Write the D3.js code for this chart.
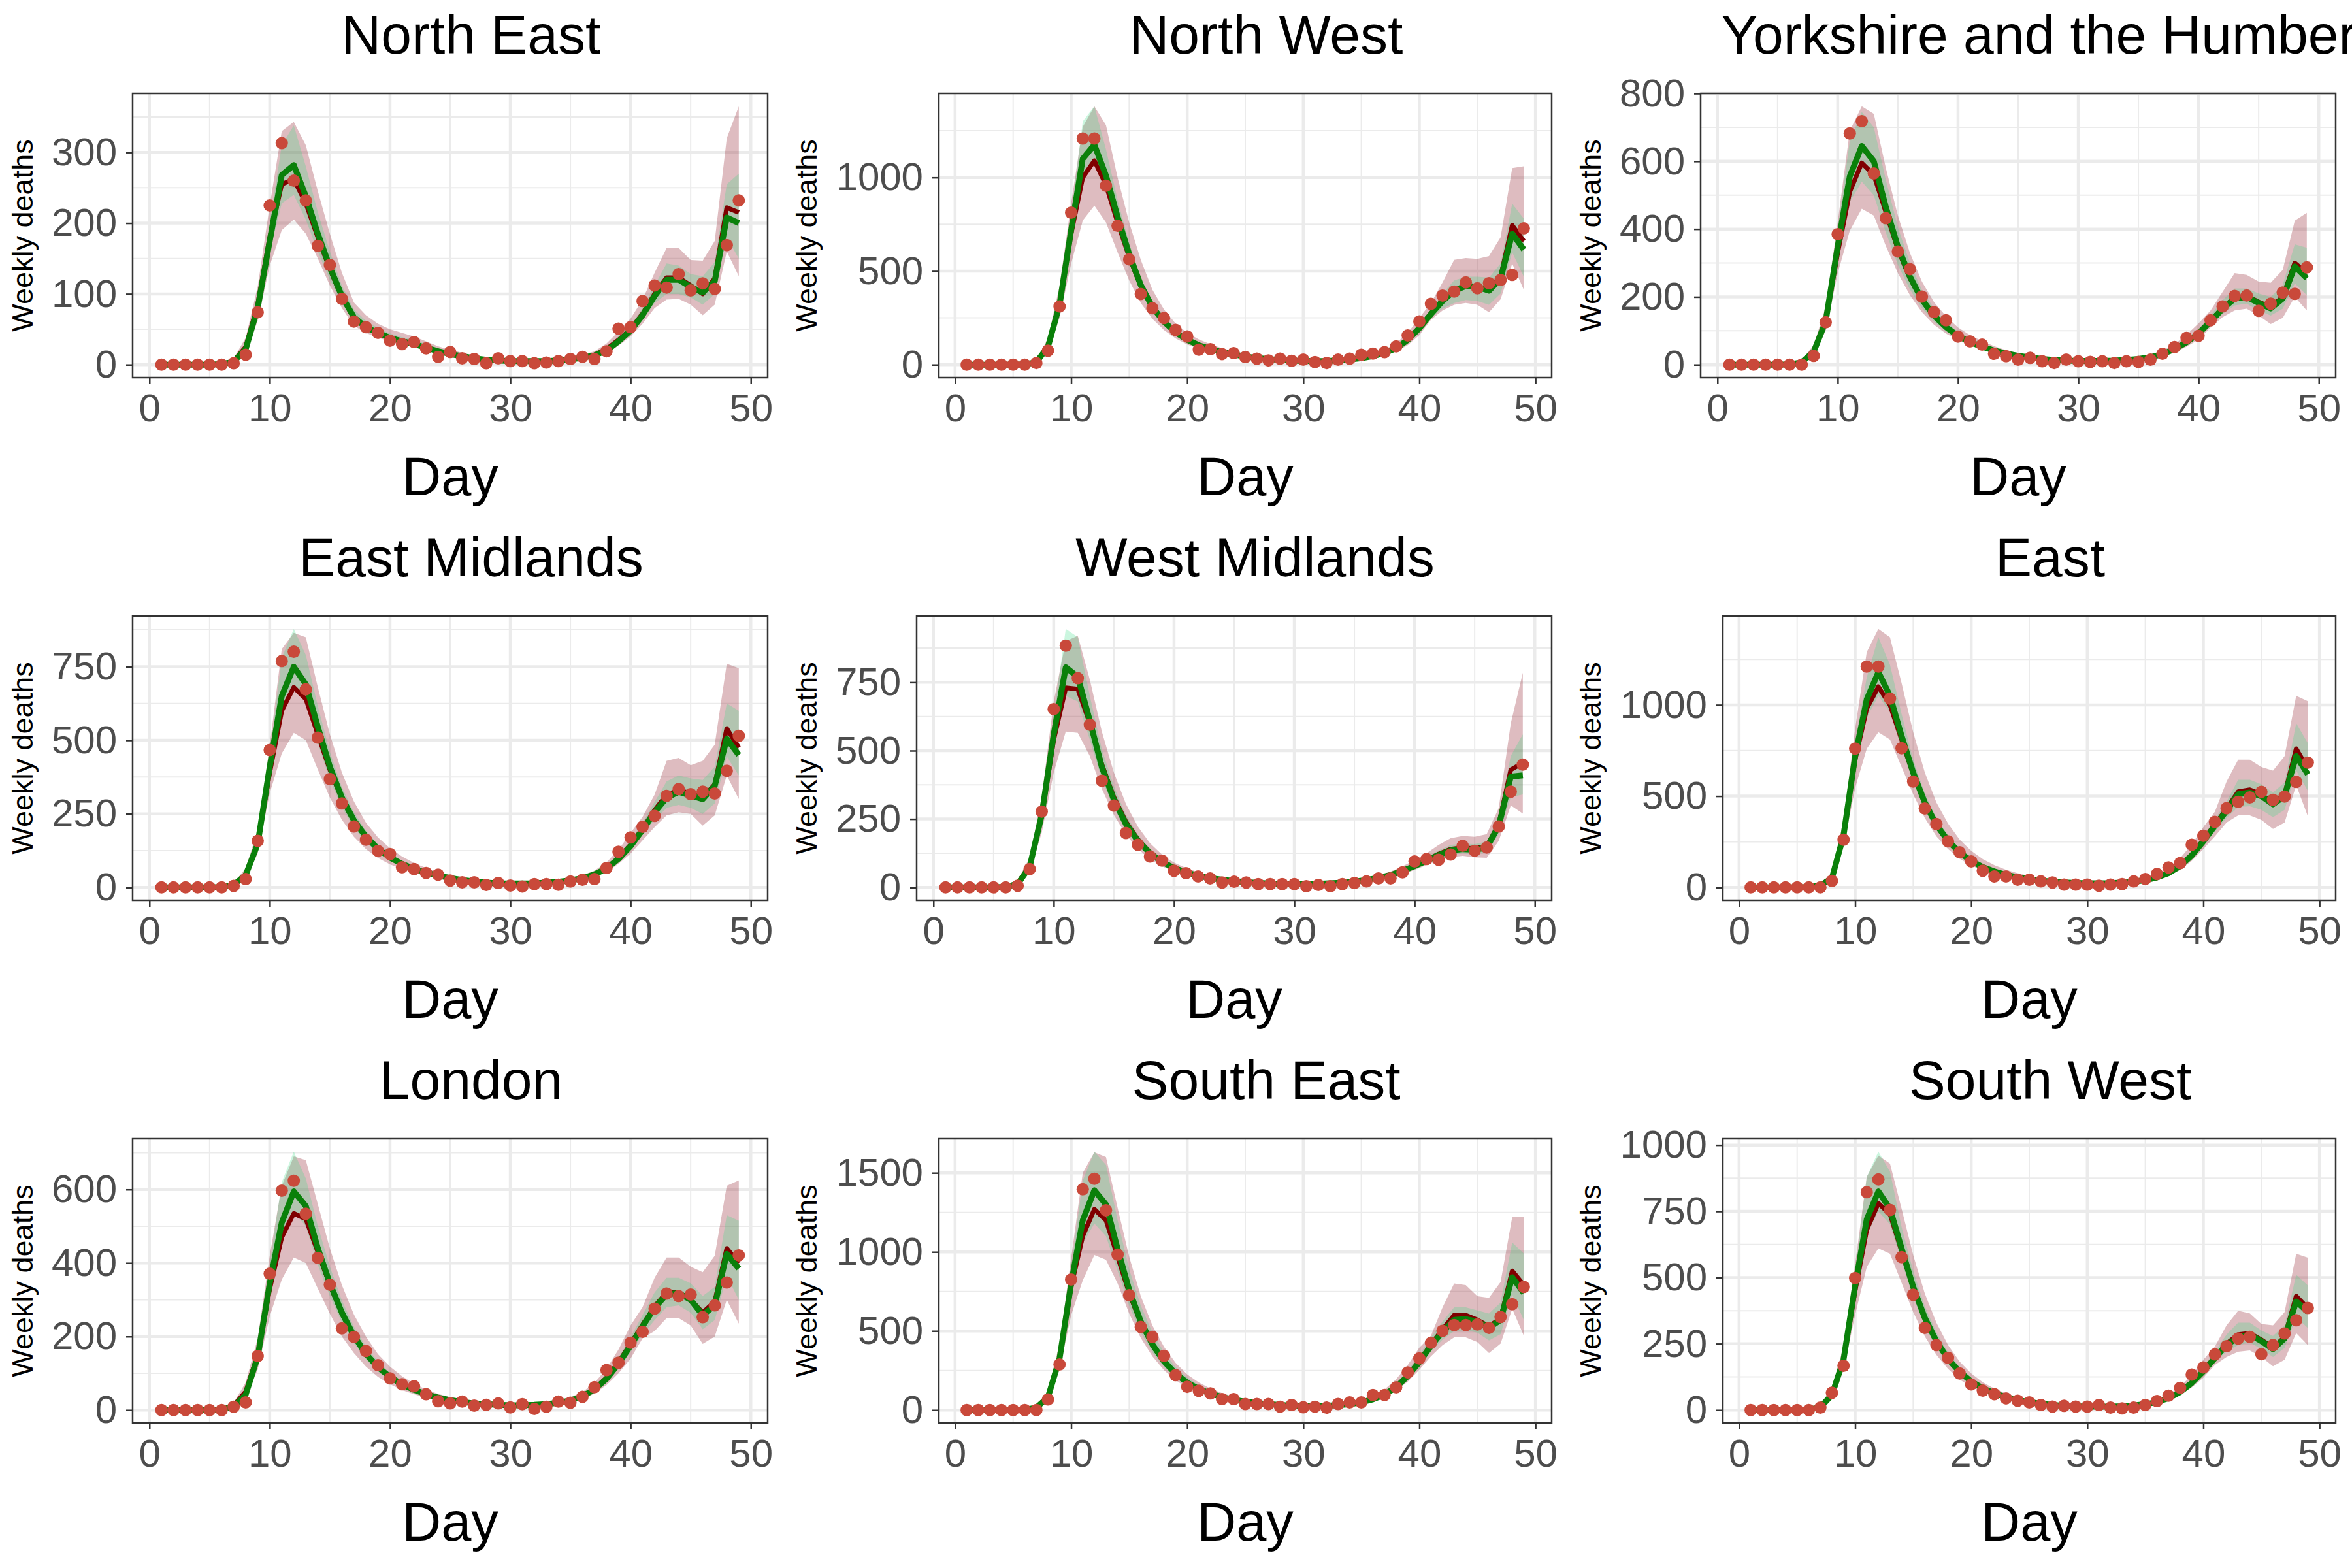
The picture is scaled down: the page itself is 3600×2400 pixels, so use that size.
<!DOCTYPE html>
<html>
<head>
<meta charset="utf-8">
<script src="https://cdn.jsdelivr.net/npm/d3@7"></script>
<style>
    body { margin: 0; background: #fff; }
    text { font-family: "Liberation Sans", Arial, sans-serif; }
</style>
</head>
<body>
<div id="chart"></div>
<script>
const regions = ['North East', 'North West', 'Yorkshire and the Humber', 'East Midlands', 'West Midlands', 'East', 'London', 'South East', 'South West'];
const days = d3.range(1, 50);
const xTicks = [0, 10, 20, 30, 40, 50];
const yTicks = [
    [0, 100, 200, 300],
    [0, 500, 1000],
    [0, 200, 400, 600, 800],
    [0, 250, 500, 750],
    [0, 250, 500, 750],
    [0, 500, 1000],
    [0, 200, 400, 600],
    [0, 500, 1000, 1500],
    [0, 250, 500, 750, 1000]
];

// observed weekly deaths, fit A (dark red) and fit B (green) with their bands
const neObs = [0,0,0,0,0,0,2,14,74,225,313,260,232,168,141,93,61,53,45,34,29,32,23,11,18,9,8,2,9,5,5,2,3,5,8,11,8,19,51,53,90,112,109,128,105,115,107,169,232];
const neFitA = [0,0,0,0,0,1,5,25,85,180,255,262,228,180,135,95,66,52,44,38,34,30,24,19,15,12,9,7,6,5,5,5,5,6,8,10,14,22,35,50,72,100,123,123,112,100,122,222,215];
const neFitB = [0,0,0,0,0,1,4,22,80,175,268,282,238,185,138,97,67,53,45,38,33,29,24,19,15,12,9,7,6,5,5,5,5,6,7,10,13,20,33,48,70,97,120,120,110,102,118,208,200];
const neLoA = [0,0,0,0,0,0,2,15,62,140,190,205,185,150,112,80,55,45,38,33,29,26,20,15,12,9,7,5,4,3,3,3,3,4,5,7,10,16,27,40,58,80,92,93,85,70,85,160,125];
const neHiA = [1,1,1,1,1,3,9,38,110,225,330,343,310,245,185,130,88,70,58,50,45,40,33,26,21,17,13,10,9,8,8,8,8,9,11,14,19,30,47,65,92,130,165,165,148,147,175,320,365];
const neLoB = [0,0,0,0,0,0,3,18,70,160,228,240,205,160,120,86,60,48,41,35,31,27,22,17,13,10,8,6,5,4,4,4,4,5,6,8,11,18,30,44,63,87,100,100,95,85,100,180,150];
const neHiB = [1,1,1,1,1,2,7,30,95,200,310,338,280,215,160,112,78,62,52,44,39,35,29,23,18,14,11,9,8,7,7,7,7,8,9,12,16,25,40,56,80,112,143,140,128,125,145,255,270];

const nwObs = [0,0,0,0,0,0,9,75,311,812,1208,1208,956,742,563,378,302,249,186,151,80,83,57,62,41,32,23,32,21,27,14,9,27,32,53,59,67,98,156,231,325,369,391,440,408,435,453,480,728];
const nwFitA = [0,0,0,0,0,2,15,100,330,700,1000,1090,960,760,575,420,305,228,172,133,105,85,68,55,45,37,31,26,22,20,19,20,23,28,36,47,63,90,135,200,275,345,400,425,420,400,470,745,660];
const nwFitB = [0,0,0,0,0,2,13,95,320,720,1100,1175,1010,790,590,425,308,230,173,133,104,84,67,54,44,36,30,25,22,20,19,20,23,28,35,46,62,88,132,195,270,340,395,420,415,395,460,700,615];
const nwLoA = [0,0,0,0,0,1,8,70,250,540,770,850,760,600,450,330,245,185,140,108,85,68,54,44,36,29,24,20,17,15,14,15,17,21,27,36,49,70,105,158,240,290,320,330,320,280,350,540,400];
const nwHiA = [2,2,2,2,2,5,25,140,420,860,1270,1380,1280,1000,760,560,400,295,220,170,135,110,88,72,59,49,41,35,30,27,26,27,31,37,47,61,80,115,170,250,330,440,560,570,565,580,680,1050,1060];
const nwLoB = [0,0,0,0,0,1,10,85,290,650,1000,1100,930,720,540,390,283,212,160,123,97,78,62,50,41,33,28,23,20,18,17,18,21,25,32,42,57,81,122,180,250,300,330,345,340,320,380,600,470];
const nwHiB = [1,1,1,1,1,3,18,110,360,800,1300,1380,1150,880,650,465,335,250,188,145,114,92,73,59,48,39,33,28,24,22,21,22,25,31,39,51,69,97,145,212,295,380,450,470,470,465,540,860,780];

const yhObs = [0,0,0,0,0,0,0,26,125,385,682,718,564,432,334,282,201,155,131,83,69,59,32,25,15,20,10,5,15,10,8,10,5,10,8,15,32,52,79,85,131,172,203,204,159,180,213,209,287];
const yhFitA = [0,0,0,0,0,1,8,40,130,330,510,595,560,450,340,255,190,143,110,85,67,53,42,33,26,21,17,14,12,11,11,11,12,14,17,23,32,47,68,95,130,168,198,203,185,170,200,300,270];
const yhFitB = [0,0,0,0,0,1,7,38,128,350,555,645,600,465,348,260,192,145,111,85,67,53,42,33,26,21,17,14,12,11,11,11,12,14,17,22,31,46,66,92,127,165,195,200,182,166,195,290,255];
const yhLoA = [0,0,0,0,0,0,4,28,100,270,395,460,440,350,270,205,155,118,92,72,57,45,35,27,21,17,13,11,9,8,8,8,9,10,13,17,24,36,53,74,110,140,160,165,145,120,138,200,160];
const yhHiA = [1,1,1,1,1,3,14,58,170,420,690,762,740,580,440,330,245,185,143,110,87,70,55,43,34,28,23,19,17,15,15,15,16,19,23,30,42,60,88,122,160,215,270,265,245,242,280,425,448];
const yhLoB = [0,0,0,0,0,0,5,32,112,310,480,540,500,390,295,222,167,127,98,76,60,47,37,29,23,18,15,12,10,9,9,9,10,12,15,19,27,40,58,82,118,150,175,180,160,145,165,240,205];
const yhHiB = [1,1,1,1,1,2,10,48,148,400,660,745,700,545,405,300,220,166,127,97,76,61,48,38,30,24,19,16,14,13,13,13,14,16,20,26,36,53,77,105,145,190,225,225,210,200,235,355,345];

const emObs = [0,0,0,0,0,0,5,28,158,467,769,801,673,509,368,285,207,162,124,113,68,62,49,43,23,17,17,8,15,6,3,11,11,9,20,26,28,66,121,170,206,243,311,334,317,325,319,396,515];
const emFitA = [0,0,0,0,0,1,9,45,150,390,600,680,640,520,400,300,225,170,130,100,80,63,50,40,32,25,20,16,14,13,13,14,16,19,24,32,45,66,100,145,200,262,315,330,320,305,350,540,475];
const emFitB = [0,0,0,0,0,1,8,42,148,410,650,750,690,545,410,305,228,172,131,101,80,63,50,40,32,25,20,16,14,13,13,14,16,19,24,31,44,64,97,140,195,255,305,325,312,300,345,505,450];
const emLoA = [0,0,0,0,0,0,4,30,115,320,455,525,500,400,305,230,172,130,100,78,62,49,39,31,25,19,15,12,11,10,10,11,12,15,19,25,35,52,80,115,160,205,245,255,250,210,245,380,300];
const emHiA = [1,1,1,1,1,3,15,65,195,480,810,865,850,680,520,390,292,220,170,133,105,83,66,53,42,33,27,22,19,18,18,19,21,25,31,41,57,85,128,185,240,315,430,440,415,430,485,760,745];
const emLoB = [0,0,0,0,0,0,6,36,132,370,600,690,630,490,365,272,203,153,117,90,71,56,45,36,28,22,18,14,12,11,11,12,14,17,21,28,39,58,88,128,180,230,270,280,270,250,285,445,380];
const emHiB = [1,1,1,1,1,2,11,52,170,450,780,878,790,615,460,340,255,192,146,113,90,71,56,45,36,28,23,18,16,15,15,16,18,22,27,36,50,73,110,160,220,290,360,380,370,365,410,625,600];

const wmObs = [0,0,0,0,0,0,6,67,277,652,884,765,595,390,299,199,156,113,98,61,52,40,33,18,21,18,12,12,12,12,4,9,4,12,16,22,33,33,55,95,104,101,120,152,134,146,223,350,449];
const wmFitA = [0,0,0,0,0,3,15,80,260,540,730,725,600,450,330,240,175,128,95,72,56,44,35,28,23,19,16,14,13,12,12,13,15,18,22,28,36,47,62,80,100,122,140,145,142,150,230,430,455];
const wmFitB = [0,0,0,0,0,2,12,75,265,560,805,770,610,440,320,232,170,125,93,71,55,43,34,28,23,19,16,14,13,12,12,13,15,17,21,27,35,45,60,78,97,118,135,140,138,145,225,405,410];
const wmLoA = [0,0,0,0,0,1,8,55,200,420,570,565,480,360,265,193,141,103,77,58,45,35,28,22,18,15,12,11,10,9,9,10,11,13,16,21,27,36,48,64,82,98,110,115,110,108,170,300,270];
const wmHiA = [1,1,1,1,2,6,25,110,330,680,900,920,760,570,420,305,222,162,120,91,71,56,45,36,29,24,20,18,16,15,15,16,18,22,27,34,44,58,77,100,125,155,180,188,185,195,290,600,785];
const wmLoB = [0,0,0,0,0,1,9,65,235,500,700,680,540,395,290,210,153,112,84,64,50,39,31,25,20,16,14,12,11,10,10,11,13,15,19,24,31,40,53,70,87,106,120,125,122,126,195,330,340];
const wmHiB = [1,1,1,1,1,4,18,90,300,630,945,915,700,505,370,265,193,141,105,80,62,49,39,31,26,21,18,16,14,13,13,14,17,20,24,31,40,52,68,88,110,135,155,160,158,168,260,480,560];

const eaObs = [0,0,0,0,0,0,0,36,261,761,1210,1210,1035,763,580,432,347,252,192,142,91,60,60,42,42,33,27,15,15,15,9,15,18,33,46,73,109,133,234,283,359,434,469,493,524,480,498,578,684];
const eaFitA = [0,0,0,0,0,2,12,55,290,700,980,1100,1000,810,620,460,340,255,190,145,112,88,70,56,45,37,31,27,24,22,22,23,26,31,40,55,80,120,180,260,345,430,525,535,510,460,510,760,650];
const eaFitB = [0,0,0,0,0,2,10,50,285,720,1030,1180,1050,830,630,465,343,256,191,145,111,87,69,55,45,37,31,27,24,22,22,23,26,31,39,54,78,117,175,252,338,420,510,520,500,455,500,720,620];
const eaLoA = [0,0,0,0,0,1,6,38,220,545,760,850,810,660,510,380,280,210,157,120,92,72,57,46,37,30,25,22,19,18,18,19,21,25,32,44,64,96,145,210,280,355,395,395,370,320,355,560,390];
const eaHiA = [2,2,2,2,2,5,20,80,370,870,1290,1416,1370,1120,850,630,465,350,262,200,155,122,97,78,63,52,44,38,34,31,31,32,36,43,55,75,108,160,235,330,415,580,700,700,660,640,720,1050,1020];
const eaLoB = [0,0,0,0,0,1,8,45,255,650,930,1050,960,760,575,425,315,235,175,133,102,80,63,50,41,34,28,24,21,20,20,21,23,28,35,49,70,105,160,230,305,380,440,445,425,385,425,640,530];
const eaHiB = [1,1,1,1,1,3,14,60,320,800,1150,1370,1220,950,700,515,380,285,212,160,123,97,77,61,50,41,35,30,27,25,25,26,29,35,44,61,88,130,195,280,375,470,590,590,565,520,575,900,790];

const loObs = [0,0,0,0,0,0,9,21,147,371,597,624,534,414,341,222,199,161,122,86,70,65,43,24,18,23,12,14,18,7,16,3,9,23,20,36,62,109,129,183,213,276,317,310,314,253,285,347,421];
const loFitA = [0,0,0,0,0,2,12,50,150,330,470,535,520,430,340,262,200,152,117,90,70,55,43,34,27,22,18,16,14,13,13,14,16,20,27,38,58,88,130,180,232,282,320,320,300,265,295,440,400];
const loFitB = [0,0,0,0,0,1,10,42,145,345,510,595,555,440,345,265,202,153,117,90,70,55,43,34,27,22,18,16,14,13,13,14,16,20,26,37,56,85,126,175,228,278,315,318,300,258,285,425,385];
const loLoA = [0,0,0,0,0,0,5,30,110,255,355,415,400,330,262,200,155,118,90,70,54,43,33,26,21,17,14,12,11,10,10,11,12,15,21,29,45,68,100,140,195,215,250,250,230,180,200,300,235];
const loHiA = [1,1,1,1,1,4,20,75,195,420,610,690,680,560,440,340,260,200,152,118,92,72,56,44,35,29,24,21,18,17,17,18,21,26,35,49,74,112,165,230,280,360,415,415,390,375,420,610,625];
const loLoB = [0,0,0,0,0,1,7,36,128,305,470,540,500,395,310,238,182,138,105,81,63,49,38,30,24,19,16,14,12,11,11,12,14,18,23,33,50,76,113,158,205,245,280,285,265,220,245,365,300];
const loHiB = [1,1,1,1,1,3,15,55,170,395,620,703,630,500,390,298,227,172,132,101,79,62,49,38,31,25,21,18,16,15,15,16,19,23,30,42,63,96,142,198,258,320,360,360,345,310,335,530,515];

const seObs = [0,0,0,0,0,0,0,67,288,825,1396,1463,1263,983,726,526,463,343,221,147,122,105,69,69,38,38,38,21,32,17,21,15,38,48,48,95,95,143,238,326,425,501,537,537,541,520,589,669,779];
const seFitA = [0,0,0,0,0,3,18,85,330,780,1100,1270,1200,970,740,550,410,305,228,172,133,104,82,65,53,44,37,32,28,26,25,27,31,38,50,70,100,150,220,310,415,510,600,600,570,530,580,880,790];
const seFitB = [0,0,0,0,0,2,15,80,325,800,1200,1390,1300,1020,760,560,415,308,230,173,133,104,82,65,53,44,37,32,28,26,25,27,31,37,49,68,97,145,215,303,405,495,570,575,560,520,570,840,740];
const seLoA = [0,0,0,0,0,1,10,60,255,600,820,980,950,800,610,455,340,252,188,142,110,86,68,54,44,36,30,26,23,21,20,22,25,31,41,57,82,122,180,255,340,410,460,460,430,360,420,640,470];
const seHiA = [2,2,2,2,3,7,30,120,420,960,1500,1630,1600,1280,970,720,535,400,298,225,174,136,107,85,69,57,48,42,37,34,33,35,40,50,65,91,130,195,285,395,470,650,800,790,720,710,810,1220,1220];
const seLoB = [0,0,0,0,0,1,12,70,295,720,1050,1180,1100,880,660,490,365,272,203,153,118,92,73,58,47,39,33,28,25,23,22,24,27,33,44,61,88,132,195,275,370,445,500,505,490,440,480,730,570];
const seHiB = [1,1,1,1,2,5,22,100,370,900,1450,1634,1550,1200,890,660,490,365,272,205,158,123,97,77,63,52,44,38,33,31,30,32,36,44,58,80,115,170,250,350,460,560,650,650,630,610,680,1060,990];

const swObs = [0,0,0,0,0,0,9,65,167,498,822,870,755,577,435,310,245,197,138,97,73,60,44,35,29,19,13,16,13,13,19,9,6,9,19,34,54,84,134,161,210,241,270,276,211,245,289,339,385];
const swFitA = [0,0,0,0,0,2,12,60,190,450,680,780,740,600,460,345,258,192,143,108,82,63,49,38,30,24,19,16,14,13,13,13,14,17,22,31,46,70,105,150,200,250,285,290,265,235,275,430,385];
const swFitB = [0,0,0,0,0,2,10,57,190,470,720,825,760,610,465,348,260,193,144,108,82,63,49,38,30,24,19,16,14,13,13,13,14,17,22,30,45,68,102,146,196,245,275,285,260,230,270,410,370];
const swLoA = [0,0,0,0,0,1,6,42,150,360,540,610,590,480,370,278,208,155,115,87,66,51,39,31,24,19,15,13,11,10,10,10,11,14,18,25,37,57,85,122,170,200,220,225,200,165,190,290,245];
const swHiA = [1,1,1,1,1,4,20,85,240,550,880,960,930,760,585,440,330,245,183,138,105,81,63,49,39,31,25,21,18,17,17,17,18,22,28,39,58,88,132,190,240,320,375,365,325,320,370,590,575];
const swLoB = [0,0,0,0,0,1,7,50,170,420,660,750,700,560,425,318,238,177,131,99,75,58,45,35,27,22,17,14,13,12,12,12,13,16,20,27,41,62,94,135,182,220,245,255,230,200,235,350,310];
const swHiB = [1,1,1,1,1,3,15,70,215,520,880,975,900,690,525,392,293,218,162,122,93,71,55,43,34,27,22,18,16,15,15,15,16,19,25,35,51,77,115,165,220,285,330,330,300,280,320,510,470];

const panels = [
    [neObs, neFitA, neFitB, neLoA, neHiA, neLoB, neHiB],
    [nwObs, nwFitA, nwFitB, nwLoA, nwHiA, nwLoB, nwHiB],
    [yhObs, yhFitA, yhFitB, yhLoA, yhHiA, yhLoB, yhHiB],
    [emObs, emFitA, emFitB, emLoA, emHiA, emLoB, emHiB],
    [wmObs, wmFitA, wmFitB, wmLoA, wmHiA, wmLoB, wmHiB],
    [eaObs, eaFitA, eaFitB, eaLoA, eaHiA, eaLoB, eaHiB],
    [loObs, loFitA, loFitB, loLoA, loHiA, loLoB, loHiB],
    [seObs, seFitA, seFitB, seLoA, seHiA, seLoB, seHiB],
    [swObs, swFitA, swFitB, swLoA, swHiA, swLoB, swHiB]
].map(function(s, i) {
    return {
        name: regions[i], ticks: yTicks[i],
        rows: days.map(function(d, j) {
            return {day: d, obs: s[0][j], fitA: s[1][j], fitB: s[2][j],
                    loA: s[3][j], hiA: s[4][j], loB: s[5][j], hiB: s[6][j]};
        })
    };
});

const cellW = 1200, cellH = 800;

const svg = d3
    .select('#chart')
    .append('svg')
    .attr('width', 3600)
    .attr('height', 2400)
    .style('display', 'block')
    .style('background', '#fff');

function midpoints(ticks, lo, hi) {
    const step = ticks[1] - ticks[0];
    const m = [ticks[0] - step / 2].concat(ticks.map(function(t) {return t + step / 2}));
    return m.filter(function(v) {return v > lo && v < hi});
}

panels.forEach(function(p, i) {
    const col = i % 3, row = Math.floor(i / 3);
    const labelLen = d3.max(p.ticks, function(t) {return String(t).length});
    const left = 203 + (labelLen - 3) * 34, right = 1175, top = 143, bottom = 578;

    const g = svg
        .append('g')
        .attr('transform', `translate(${col * cellW},${row * cellH})`);

    // ggplot style 5% expansion
    const dx = d3.extent(days), ex = (dx[1] - dx[0]) * 0.05;
    const x = d3.scaleLinear()
        .domain([dx[0] - ex, dx[1] + ex])
        .range([left, right]);
    const yMin = d3.min(p.rows, function(r) {return Math.min(r.obs, r.loA, r.loB)});
    const yMax = d3.max(p.rows, function(r) {return Math.max(r.obs, r.hiA, r.hiB)});
    const ey = (yMax - yMin) * 0.05;
    const y = d3.scaleLinear()
        .domain([yMin - ey, yMax + ey])
        .range([bottom, top]);

    // grid
    const grid = g.append('g');
    grid.selectAll('.xmin')
        .data(midpoints(xTicks, x.domain()[0], x.domain()[1]))
        .enter().append('line')
        .attr('x1', x).attr('x2', x).attr('y1', top).attr('y2', bottom)
        .attr('stroke', '#EBEBEB').attr('stroke-width', 2);
    grid.selectAll('.ymin')
        .data(midpoints(p.ticks, y.domain()[0], y.domain()[1]))
        .enter().append('line')
        .attr('y1', y).attr('y2', y).attr('x1', left).attr('x2', right)
        .attr('stroke', '#EBEBEB').attr('stroke-width', 2);
    grid.selectAll('.xmaj')
        .data(xTicks)
        .enter().append('line')
        .attr('x1', x).attr('x2', x).attr('y1', top).attr('y2', bottom)
        .attr('stroke', '#EBEBEB').attr('stroke-width', 4.5);
    grid.selectAll('.ymaj')
        .data(p.ticks)
        .enter().append('line')
        .attr('y1', y).attr('y2', y).attr('x1', left).attr('x2', right)
        .attr('stroke', '#EBEBEB').attr('stroke-width', 4.5);

    const bandA = d3.area()
        .x(function(d) {return x(d.day)})
        .y0(function(d) {return y(d.loA)})
        .y1(function(d) {return y(d.hiA)});
    const bandB = d3.area()
        .x(function(d) {return x(d.day)})
        .y0(function(d) {return y(d.loB)})
        .y1(function(d) {return y(d.hiB)});
    const lineA = d3.line()
        .x(function(d) {return x(d.day)})
        .y(function(d) {return y(d.fitA)});
    const lineB = d3.line()
        .x(function(d) {return x(d.day)})
        .y(function(d) {return y(d.fitB)});

    g.append('path')
        .attr('d', bandA(p.rows))
        .attr('fill', '#9A3440')
        .attr('fill-opacity', 0.33);
    g.append('path')
        .attr('d', bandB(p.rows))
        .attr('fill', '#30DC80')
        .attr('fill-opacity', 0.25);
    g.append('path')
        .attr('d', lineA(p.rows))
        .attr('fill', 'none')
        .attr('stroke', '#800000')
        .attr('stroke-width', 7)
        .attr('stroke-linejoin', 'round');
    g.append('path')
        .attr('d', lineB(p.rows))
        .attr('fill', 'none')
        .attr('stroke', '#0A800A')
        .attr('stroke-width', 9)
        .attr('stroke-linejoin', 'round');

    g.selectAll('circle')
        .data(p.rows)
        .enter()
        .append('circle')
        .attr('cx', function(d) {return x(d.day)})
        .attr('cy', function(d) {return y(d.obs)})
        .attr('r', 9.5)
        .attr('fill', '#C9493A');

    // panel border
    g.append('rect')
        .attr('x', left).attr('y', top)
        .attr('width', right - left).attr('height', bottom - top)
        .attr('fill', 'none')
        .attr('stroke', '#333333')
        .attr('stroke-width', 2.5);

    // axes
    const xAxis = g.append('g')
        .attr('transform', `translate(0,${bottom})`)
        .call(d3.axisBottom(x).tickValues(xTicks).tickSize(10).tickPadding(14));
    const yAxis = g.append('g')
        .attr('transform', `translate(${left},0)`)
        .call(d3.axisLeft(y).tickValues(p.ticks).tickSize(10).tickPadding(14).tickFormat(d3.format('d')));
    [xAxis, yAxis].forEach(function(a) {
        a.select('.domain').remove();
        a.selectAll('line').attr('stroke', '#333333').attr('stroke-width', 2.5);
        a.selectAll('text')
            .attr('fill', '#4D4D4D')
            .style('font-size', '60px')
            .style('font-family', '"Liberation Sans", Arial, sans-serif');
    });

    // titles
    g.append('text')
        .attr('x', (left + right) / 2 + 32)
        .attr('y', 82)
        .attr('text-anchor', 'middle')
        .style('font-size', '84px')
        .text(p.name);
    g.append('text')
        .attr('x', (left + right) / 2)
        .attr('y', 758)
        .attr('text-anchor', 'middle')
        .style('font-size', '83px')
        .text('Day');
    g.append('text')
        .attr('transform', `translate(50,${(top + bottom) / 2}) rotate(-90)`)
        .attr('text-anchor', 'middle')
        .style('font-size', '45px')
        .text('Weekly deaths');
});
</script>
</body>
</html>
